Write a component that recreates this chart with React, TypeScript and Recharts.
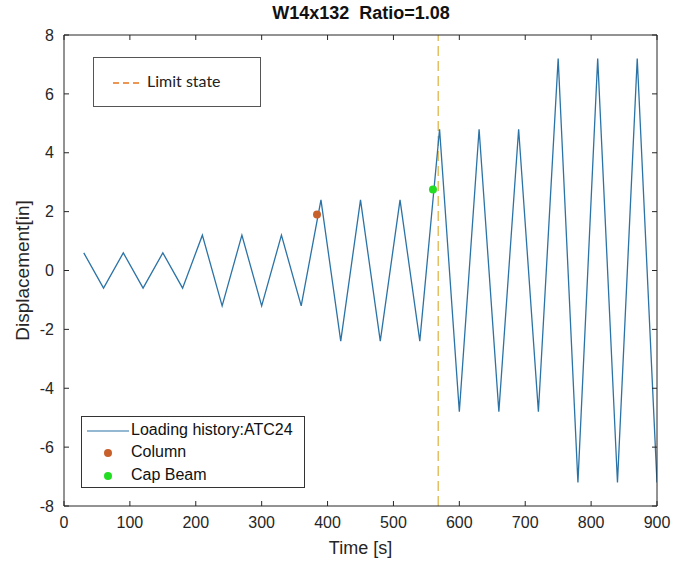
import { ComposedChart, Line, Scatter, XAxis, YAxis, ReferenceLine } from 'recharts';

// loading history (ATC-24 protocol), peaks every 30 s
const time = [30, 60, 90, 120, 150, 180, 210, 240, 270, 300, 330, 360, 390, 420, 450, 480, 510, 540, 570, 600, 630, 660, 690, 720, 750, 780, 810, 840, 870, 900];
const displacement = [0.6, -0.6, 0.6, -0.6, 0.6, -0.6, 1.2, -1.2, 1.2, -1.2, 1.2, -1.2, 2.4, -2.4, 2.4, -2.4, 2.4, -2.4, 4.8, -4.8, 4.8, -4.8, 4.8, -4.8, 7.2, -7.2, 7.2, -7.2, 7.2, -7.2];

const columnPoint = [{ t: 384, d: 1.9 }];
const capBeamPoint = [{ t: 560, d: 2.75 }];
const limitStateTime = 568;

const xTicks = [0, 100, 200, 300, 400, 500, 600, 700, 800, 900];
const yTicks = [-8, -6, -4, -2, 0, 2, 4, 6, 8];

const history = time.map((t, i) => ({ t, d: displacement[i] }));

const axisColor = '#262626';
const lineColor = '#2b73a6';
const columnColor = '#c8602c';
const capColor = '#22dd22';
const font = "'Liberation Sans', Arial, sans-serif";

const tickStyle = { fill: axisColor, fontSize: 16, fontFamily: font };
const noLabel = () => '';

function Dot({ cx, cy, fill }: any) {
  return <circle cx={cx} cy={cy} r={4} fill={fill} />;
}

export default function App() {
  return (
    <div style={{ position: 'absolute', left: 0, top: 0, width: 674, height: 569, background: '#fff' }}>
      <ComposedChart width={674} height={569} data={history} margin={{ top: 25, right: 7, bottom: 0, left: 4 }}>
        <XAxis
          dataKey="t"
          type="number"
          domain={[0, 900]}
          ticks={xTicks}
          allowDataOverflow
          height={63}
          tickSize={-5}
          tickMargin={16}
          stroke={axisColor}
          tick={tickStyle}
          label={{ value: 'Time [s]', position: 'insideBottom', offset: 15, style: { fill: axisColor, fontSize: 18, fontFamily: font } }}
        />
        <XAxis
          xAxisId="top"
          dataKey="t"
          orientation="top"
          type="number"
          domain={[0, 900]}
          ticks={xTicks}
          allowDataOverflow
          height={10}
          tickSize={-5}
          stroke={axisColor}
          tickFormatter={noLabel}
        />
        <YAxis
          type="number"
          domain={[-8, 8]}
          ticks={yTicks}
          allowDataOverflow
          width={60}
          tickSize={-5}
          tickMargin={15}
          stroke={axisColor}
          tick={tickStyle}
          label={{ value: 'Displacement[in]', angle: -90, position: 'insideLeft', offset: 18, style: { textAnchor: 'middle', fill: axisColor, fontSize: 19, fontFamily: font } }}
        />
        <YAxis
          yAxisId="right"
          orientation="right"
          type="number"
          domain={[-8, 8]}
          ticks={yTicks}
          allowDataOverflow
          width={10}
          tickSize={-5}
          stroke={axisColor}
          tickFormatter={noLabel}
        />
        {/* invisible copy so the top/right box axes get drawn */}
        <Line xAxisId="top" yAxisId="right" type="linear" dataKey="d" stroke="none" dot={false} activeDot={false} isAnimationActive={false} />
        <ReferenceLine x={limitStateTime} stroke="#e3c066" strokeWidth={1.5} strokeDasharray="10 5" />
        <Line type="linear" dataKey="d" stroke={lineColor} strokeWidth={1.3} dot={false} isAnimationActive={false} />
        <Scatter data={columnPoint} dataKey="d" fill={columnColor} shape={<Dot fill={columnColor} />} isAnimationActive={false} />
        <Scatter data={capBeamPoint} dataKey="d" fill={capColor} shape={<Dot fill={capColor} />} isAnimationActive={false} />
      </ComposedChart>

      <div style={{ position: 'absolute', left: 0, width: 674, top: 3, textAlign: 'center', paddingLeft: 48, boxSizing: 'border-box', fontFamily: font, fontWeight: 'bold', fontSize: 18, color: '#111', whiteSpace: 'pre' }}>
        {'W14x132  Ratio=1.08'}
      </div>

      {/* limit state legend */}
      <div style={{ position: 'absolute', left: 93, top: 57, width: 168, height: 50, boxSizing: 'border-box', border: '1px solid #555', background: '#fff' }}>
        <svg width={32} height={4} style={{ position: 'absolute', left: 19, top: 23 }}>
          <line x1={0} y1={2} x2={30} y2={2} stroke="#e8731a" strokeWidth={1.5} strokeDasharray="6 4" />
        </svg>
        <span style={{ position: 'absolute', left: 53, top: 13, fontFamily: 'Lato, sans-serif', fontSize: 16, color: '#222' }}>Limit state</span>
      </div>

      {/* series legend */}
      <div style={{ position: 'absolute', left: 81, top: 416, width: 224, height: 72, boxSizing: 'border-box', border: '1px solid #333', background: '#fff', fontFamily: font, fontSize: 16, color: '#111' }}>
        <svg width={48} height={70} style={{ position: 'absolute', left: 0, top: 0 }}>
          <line x1={5} y1={14} x2={47} y2={14} stroke={lineColor} strokeWidth={1.2} />
          <circle cx={26} cy={36} r={4} fill={columnColor} />
          <circle cx={26} cy={59} r={4} fill={capColor} />
        </svg>
        <span style={{ position: 'absolute', left: 49, top: 4 }}>Loading history:ATC24</span>
        <span style={{ position: 'absolute', left: 49, top: 26 }}>Column</span>
        <span style={{ position: 'absolute', left: 49, top: 49 }}>Cap Beam</span>
      </div>
    </div>
  );
}
